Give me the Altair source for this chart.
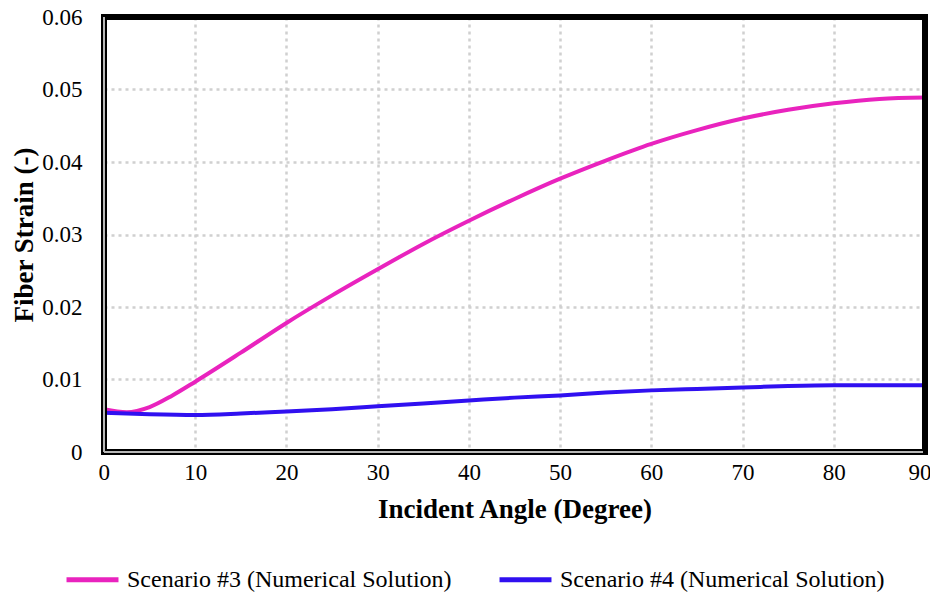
import altair as alt
import pandas as pd

angles_s3 = [0, 2.5, 5, 7.5, 10, 15, 20, 25, 30, 35, 40, 45, 50, 55, 60, 65, 70, 75, 80, 85, 90]
strain_s3 = [0.0059, 0.0055, 0.0062, 0.0078, 0.0097, 0.0137, 0.0178, 0.0216, 0.0252, 0.0287,
             0.0319, 0.0349, 0.0377, 0.0402, 0.0425, 0.0444, 0.0460, 0.0472, 0.0481, 0.0487, 0.0489]
angles_s4 = [0, 5, 10, 15, 20, 25, 30, 35, 40, 45, 50, 55, 60, 65, 70, 75, 80, 85, 90]
strain_s4 = [0.0054, 0.0052, 0.0051, 0.0053, 0.0056, 0.0059, 0.0063, 0.0067, 0.0071, 0.0075,
             0.0078, 0.0082, 0.0085, 0.0087, 0.0089, 0.0091, 0.0092, 0.0092, 0.0092]
series_names = ["Scenario #3 (Numerical Solution)", "Scenario #4 (Numerical Solution)"]
series_colors = ["#E923BE", "#3010F0"]
x_ticks = list(range(0, 91, 10))
y_ticks = [0, 0.01, 0.02, 0.03, 0.04, 0.05, 0.06]

df = pd.concat([
    pd.DataFrame({"angle": angles_s3, "strain": strain_s3, "series": series_names[0]}),
    pd.DataFrame({"angle": angles_s4, "strain": strain_s4, "series": series_names[1]}),
])

FONT = "Liberation Serif"
W, H = 821, 435

lines = alt.Chart(df).mark_line(strokeWidth=4, interpolate="monotone").encode(
    x=alt.X("angle:Q", scale=alt.Scale(domain=[0, 90], nice=False),
            axis=alt.Axis(title="Incident Angle (Degree)", values=x_ticks,
                          grid=True, gridDash=[3, 4], gridColor="#d0d0d0", gridWidth=2.5,
                          tickSize=0, domain=False, labelPadding=9, labelFontSize=23,
                          labelFlush=True, labelFlushOffset=6, labelOverlap=False,
                          titleFontSize=27, titleFontWeight="bold", titlePadding=12,
                          labelFont=FONT, titleFont=FONT, labelColor="black", titleColor="black")),
    y=alt.Y("strain:Q", scale=alt.Scale(domain=[0, 0.06], nice=False),
            axis=alt.Axis(title="Fiber Strain (-)", values=y_ticks,
                          labelExpr="datum.value == 0 ? '0' : format(datum.value, '.2f')",
                          grid=True, gridDash=[3, 4], gridColor="#d0d0d0", gridWidth=2.5,
                          tickSize=0, domain=False, labelPadding=22, labelFontSize=23,
                          labelFlush=False, labelOverlap=False,
                          titleFontSize=27, titleFontWeight="bold", titlePadding=3,
                          labelFont=FONT, titleFont=FONT, labelColor="black", titleColor="black")),
    color=alt.Color("series:N", scale=alt.Scale(domain=series_names, range=series_colors),
                    legend=alt.Legend(title=None, orient="none", direction="horizontal",
                                      legendX=-40, legendY=534, symbolType="stroke",
                                      symbolSize=2700, symbolStrokeWidth=5, labelFontSize=24,
                                      labelFont=FONT, labelColor="black", columnPadding=37,
                                      labelOffset=6, labelLimit=400)),
)

frame = alt.Chart(df).mark_rect(fill=None, stroke="black", strokeWidth=5).encode(
    x=alt.value(0), x2=alt.value(W), y=alt.value(0), y2=alt.value(H)
)
inner_left = alt.Chart(df).mark_rule(color="#b8b8b8", strokeWidth=1.5).encode(
    x=alt.value(0), y=alt.value(0), y2=alt.value(H)
)
inner_bottom = alt.Chart(df).mark_rule(color="#b8b8b8", strokeWidth=1.5).encode(
    x=alt.value(0), x2=alt.value(W - 2), y=alt.value(H)
)

chart = alt.layer(lines, frame, inner_left, inner_bottom).properties(
    width=W, height=H,
    autosize=alt.AutoSizeParams(type="none"),
    padding={"left": 96, "top": 9, "right": 5, "bottom": 140},
).configure_view(
    stroke=None
)

chart.save("out.html", embed_options={"renderer": "svg", "actions": False})
